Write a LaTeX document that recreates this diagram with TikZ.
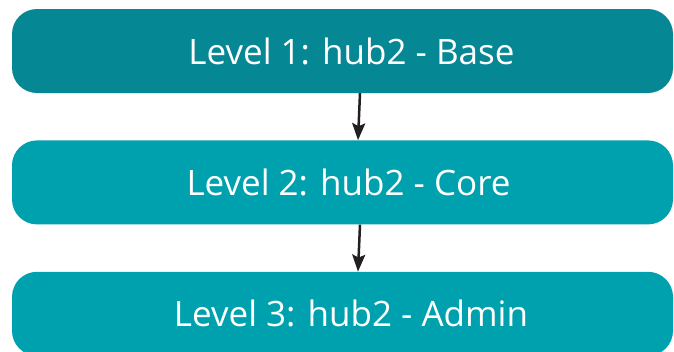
\documentclass[tikz,border=0pt]{standalone}
\usepackage{fontspec}
\setmainfont{Open Sans}
\usetikzlibrary{positioning,arrows.meta}

\begin{document}
\begin{tikzpicture}[x=1pt,y=1pt]

\definecolor{tealdark}{RGB}{6,135,148}
\definecolor{teallight}{RGB}{0,161,174}
\definecolor{arrowblack}{RGB}{35,31,32}

\tikzset{
 levelbox/.style={rounded corners=25pt,minimum width=661pt,minimum height=84pt,
  inner sep=0pt,text=white,font=\fontsize{35}{40}\selectfont},
 levelarrow/.style={draw=arrowblack,line width=2.5pt,
  -{Stealth[length=17pt,width=13pt,inset=3pt]}}
}

\useasboundingbox (0,0) rectangle (674,-351);

\node[levelbox,fill=tealdark] (lvlone) at (342.5,-51) {};
\node[levelbox,fill=teallight,below=47pt of lvlone] (lvltwo) {};
\node[levelbox,fill=teallight,below=47pt of lvltwo] (lvlthree) {};

\node[text=white,font=\fontsize{35}{40}\selectfont] (txtone) at (351.5,-51) {Level 1: hub2 - Base};
\node[text=white,font=\fontsize{35}{40}\selectfont] (txttwo) at (348.5,-182) {Level 2: hub2 - Core};
\node[text=white,font=\fontsize{35}{40}\selectfont] (txtthree) at (351,-313) {Level 3: hub2 - Admin};

\draw[levelarrow] ([xshift=17.5pt]lvlone.south) -- ([xshift=15.5pt]lvltwo.north);
\draw[levelarrow] ([xshift=17.5pt]lvltwo.south) -- ([xshift=15.5pt]lvlthree.north);

\end{tikzpicture}
\end{document}
